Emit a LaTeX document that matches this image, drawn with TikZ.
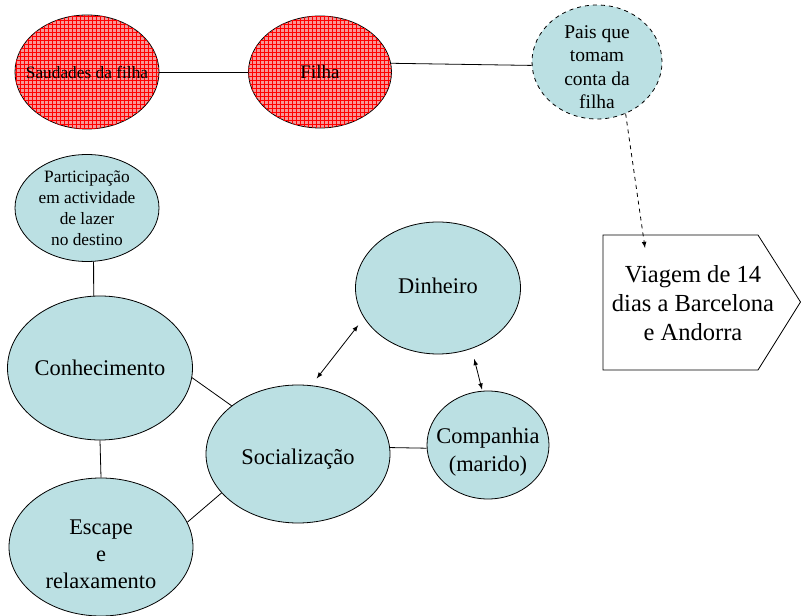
\documentclass[tikz,border=0pt]{standalone}
\usepackage{fontspec}
\setmainfont{Liberation Serif}
\usepackage{tikz}
\usetikzlibrary{shapes.geometric,patterns}
\definecolor{teal1}{RGB}{187,224,227}
\definecolor{rosy}{RGB}{247,150,150}
% text set inside an ellipse without growing it
\newcommand{\etxt}[2][0.35em]{\makebox[0pt]{\smash{\raisebox{-#1}{\begin{tabular}{@{}c@{}}#2\end{tabular}}}}}

\begin{document}
\begin{tikzpicture}[x=0.75pt,y=-0.75pt,
		line width=0.6pt,
		bub/.style args = {#1/#2}{%
			ellipse, draw, fill=teal1, inner sep=0pt,
			minimum width=#1*0.75pt, minimum height=#2*0.75pt},
		redbub/.style args = {#1/#2}{%
			bub=#1/#2, fill=rosy,
			postaction={pattern=grid, pattern color=red}},
		big/.style = {font=\fontsize{16.8}{20.5}\selectfont}
		]
		\useasboundingbox (0,0) rectangle (801,616);
		\node (saudades) [redbub=144/114, font=\fontsize{13}{15.5}\selectfont] at (87,72) {\etxt{Saudades da filha}};
		\node (filha) [redbub=143/112, font=\fontsize{14.3}{17}\selectfont] at (320,72) {\etxt{Filha}};
		\node (pais) [bub=130/114, dashed, font=\fontsize{14.6}{17.7}\selectfont] at (597,62) {\etxt[0.6em]{Pais que\\tomam\\conta da\\filha}};
		\node (particip) [bub=144/107, font=\fontsize{13}{15.8}\selectfont] at (87,208) {\etxt{Participação\\em actividade\\de lazer\\no destino}};
		\node (conhec) [bub=185/144, big] at (100,368) {\etxt{Conhecimento}};
		\node (escape) [bub=184/138, big] at (101,547) {\etxt[0.66em]{Escape\\e\\relaxamento}};
		\node (social) [bub=184/138, big] at (298,454) {\etxt[0.5em]{Socialização}};
		\node (dinheiro) [bub=165/132, big] at (438,288) {\etxt[0.25em]{Dinheiro}};
		\node (companhia) [bub=122/108, big] at (488,445) {\etxt[0.57em]{Companhia\\(marido)}};
		\node (viagem) [align=center, font=\fontsize{18.4}{22}\selectfont] at (693,303) {Viagem de 14\\dias a Barcelona\\e Andorra};
		\draw (603,235) -- (758,235) -- (800.5,302) -- (758,370) -- (603,370) -- cycle;
		\coordinate (vtip) at (645,248);
		\foreach \from/\to in {saudades.east/filha.west, filha.7/pais.183, particip.-83/conhec.95, conhec.south/escape.north, conhec.-6/social.144, escape.16/social.207, social.4/companhia.183}
		\draw (\from) -- (\to);
		\draw[dashed,-latex] (pais.-61) -- (vtip);
		\draw[latex-latex, shorten <=7pt, shorten >=6.5pt] (dinheiro.202) -- (social.79);
		\draw[latex-latex, shorten <=8pt, shorten >=1pt] (dinheiro.-61) -- (companhia.96);
	\end{tikzpicture}
\end{document}
